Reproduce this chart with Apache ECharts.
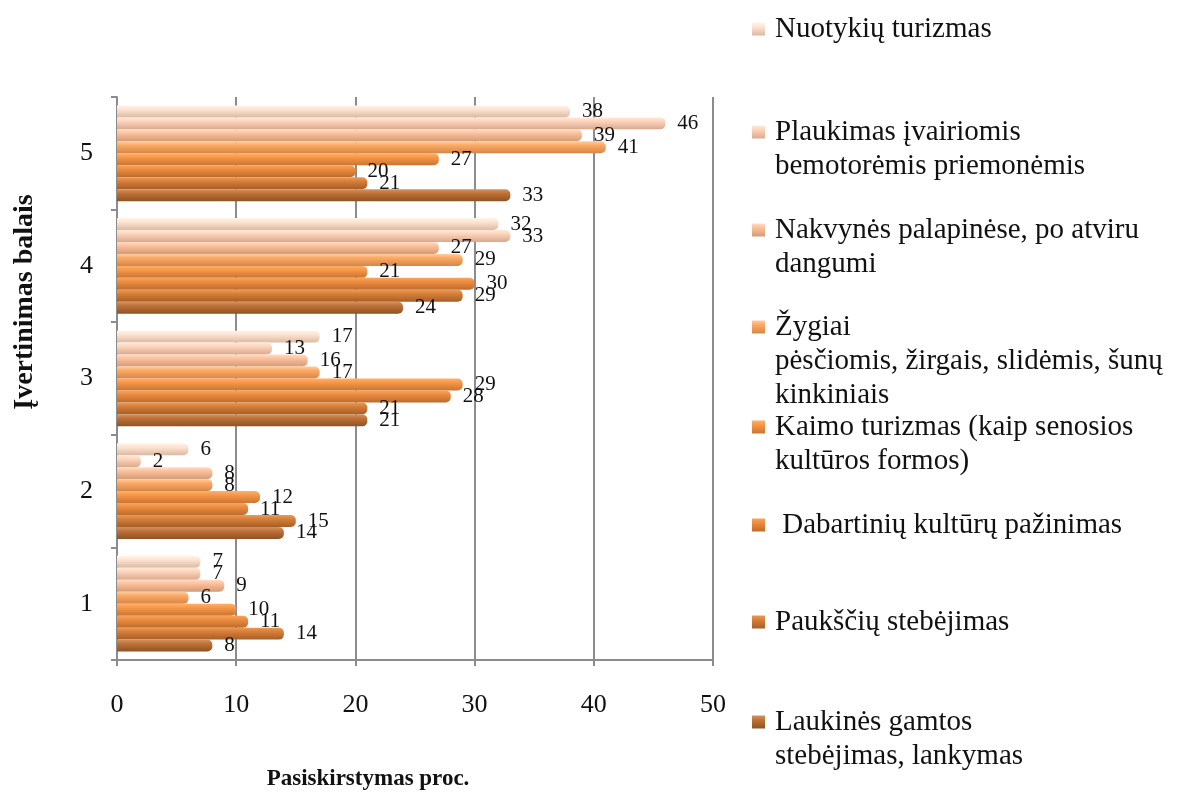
<!DOCTYPE html>
<html>
<head>
<meta charset="utf-8">
<script src="https://cdn.jsdelivr.net/npm/echarts@6/dist/echarts.min.js"></script>
<style>html,body{margin:0;padding:0;background:#fff}#c{width:1183px;height:792px}</style>
</head>
<body>
<div id="c"></div>
<script>
const categories = ['1', '2', '3', '4', '5'];
const seriesNames = [
  'Nuotykių turizmas',
  'Plaukimas įvairiomis\nbemotorėmis priemonėmis',
  'Nakvynės palapinėse, po atviru\ndangumi',
  'Žygiai\npėsčiomis, žirgais, slidėmis, šunų\nkinkiniais',
  'Kaimo turizmas (kaip senosios\nkultūros formos)',
  ' Dabartinių kultūrų pažinimas',
  'Paukščių stebėjimas',
  'Laukinės gamtos\nstebėjimas, lankymas'
];
// values for categories 1..5
const nuotykiu   = [7, 6, 17, 32, 38];
const plaukimas  = [7, 2, 13, 33, 46];
const nakvynes   = [9, 8, 16, 27, 39];
const zygiai     = [6, 8, 17, 29, 41];
const kaimo      = [10, 12, 29, 21, 27];
const dabartiniu = [11, 11, 28, 30, 20];
const pauksciu   = [14, 15, 21, 29, 21];
const laukines   = [8, 14, 21, 24, 33];
const xTicks = [0, 10, 20, 30, 40, 50];

const values = [nuotykiu, plaukimas, nakvynes, zygiai, kaimo, dabartiniu, pauksciu, laukines];
const colors = [
  ['#fff3ea', '#fde2d0', '#dcb9a3'],
  ['#ffe9dc', '#fcd2b9', '#d9a98e'],
  ['#ffdcc6', '#fbbf98', '#d39b78'],
  ['#ffcc9f', '#fba862', '#d5864a'],
  ['#ffb06a', '#f79646', '#c97533'],
  ['#f7a35f', '#ec8b3f', '#bd6c2c'],
  ['#e99a5a', '#d67e37', '#a65e26'],
  ['#d4935f', '#bd7136', '#8e5224']
];

const series = values.map((vals, i) => ({
  name: seriesNames[i],
  type: 'bar',
  data: vals,
  barGap: '0%',
  barCategoryGap: '15%',
  itemStyle: {
    color: new echarts.graphic.LinearGradient(0, 0, 0, 1, [
      {offset: 0, color: colors[i][0]},
      {offset: 0.35, color: colors[i][1]},
      {offset: 1, color: colors[i][2]}
    ]),
    borderRadius: [0, 5, 5, 0]
  },
  label: {
    show: true,
    position: 'right',
    distance: 12,
    fontFamily: 'Liberation Serif',
    fontSize: 21,
    color: '#111'
  }
}));

const legendTops = [27, 130, 228, 325, 425, 523, 620, 720];
const lineH = 34;
const legends = seriesNames.map((name, i) => {
  const n = name.split('\n').length;
  return {
    data: [name],
    orient: 'vertical',
    left: 747,
    top: legendTops[i] - 3 - lineH / 2 - (n - 1) * lineH,
    itemWidth: 13,
    itemHeight: 13,
    icon: 'rect',
    selectedMode: false,
    formatter: nm => '\n'.repeat(nm.split('\n').length - 1) + nm,
    textStyle: {
      fontFamily: 'Liberation Serif',
      fontSize: 29,
      lineHeight: lineH,
      color: '#111',
      padding: [0, 0, 0, 5]
    }
  };
});

const chart = echarts.init(document.getElementById('c'));
chart.setOption({
  animation: false,
  backgroundColor: '#fff',
  grid: {left: 117, right: 470, top: 97, bottom: 132},
  legend: legends,
  xAxis: {
    type: 'value',
    min: xTicks[0],
    max: xTicks[xTicks.length - 1],
    interval: 10,
    axisLine: {show: true, lineStyle: {color: '#8c8c8c', width: 2}},
    axisTick: {show: true, length: 6, lineStyle: {color: '#8c8c8c', width: 2}},
    axisLabel: {margin: 32, fontFamily: 'Liberation Serif', fontSize: 26, color: '#111'},
    splitLine: {show: true, lineStyle: {color: '#8c8c8c', width: 2}}
  },
  yAxis: {
    type: 'category',
    data: categories,
    axisLine: {show: true, lineStyle: {color: '#8c8c8c', width: 2}},
    axisTick: {show: true, length: 6, lineStyle: {color: '#8c8c8c', width: 2}},
    axisLabel: {margin: 24, fontFamily: 'Liberation Serif', fontSize: 26, color: '#111'}
  },
  graphic: [
    {
      type: 'text', x: 368, y: 779,
      style: {text: 'Pasiskirstymas proc.', font: 'bold 23px "Liberation Serif"', fill: '#111', align: 'center', verticalAlign: 'middle'}
    },
    {
      type: 'text', x: 25, y: 302, rotation: Math.PI / 2,
      style: {text: 'Įvertinimas balais', font: 'bold 28px "Liberation Serif"', fill: '#111', align: 'center', verticalAlign: 'middle'}
    }
  ],
  series: series
});
</script>
</body>
</html>
